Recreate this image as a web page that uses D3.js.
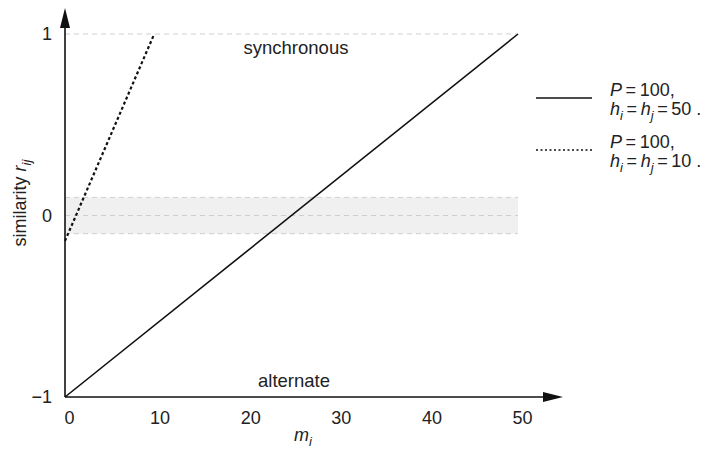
<!DOCTYPE html>
<html>
<head>
<meta charset="utf-8">
<script src="https://cdn.jsdelivr.net/npm/d3@7"></script>
<style>
  body { margin: 0; background: #fff; }
  text { font-family: "Liberation Sans", Arial, sans-serif; fill: #222; }
</style>
</head>
<body>
<svg id="chart"></svg>
<script>
// values
const xTicks = [0, 10, 20, 30, 40, 50];
const yTicks = [-1, 0, 1];
const yTickLabels = ["\u22121", "0", "1"];
const lineA_m = [0, 50];      // P = 100, h_i = h_j = 50
const lineA_r = [-1, 1];
const lineB_m = [0, 9.85];    // P = 100, h_i = h_j = 10
const lineB_r = [-0.14, 1];
const bandLimits = [-0.1, 0.1];

const width = 714, height = 455;
const svg = d3.select("#chart").attr("width", width).attr("height", height);

const x = d3.scaleLinear().domain([0, 50]).range([65, 518]);
const y = d3.scaleLinear().domain([-1, 1]).range([397, 34]);

// shaded band around zero
svg.append("rect")
  .attr("x", x(0)).attr("y", y(bandLimits[1]))
  .attr("width", x(50) - x(0))
  .attr("height", y(bandLimits[0]) - y(bandLimits[1]))
  .attr("fill", "#f0f0f0");

// light dashed guides
[bandLimits[0], 0, bandLimits[1], 1].forEach(v => {
  svg.append("line")
    .attr("x1", x(0)).attr("x2", x(50))
    .attr("y1", y(v)).attr("y2", y(v))
    .attr("stroke", "#cfcfcf")
    .attr("stroke-width", 1)
    .attr("stroke-dasharray", "5,4");
});

// tick labels via d3 axes (no domain lines, arrows drawn by hand)
const xAxis = svg.append("g")
  .attr("transform", `translate(0,${y(-1)})`)
  .call(d3.axisBottom(x).tickValues(xTicks).tickSize(0).tickPadding(14));
xAxis.select(".domain").remove();
xAxis.selectAll("text")
  .attr("dx", 4)
  .style("font-size", "18px")
  .style("font-family", "Liberation Sans, Arial, sans-serif")
  .attr("fill", "#222");

const yAxis = svg.append("g")
  .attr("transform", `translate(${x(0)},0)`)
  .call(d3.axisLeft(y).tickValues(yTicks).tickSize(0).tickPadding(13)
    .tickFormat((d, i) => yTickLabels[i]));
yAxis.select(".domain").remove();
yAxis.selectAll("text")
  .style("font-size", "18px")
  .style("font-family", "Liberation Sans, Arial, sans-serif")
  .attr("fill", "#222");

// axis lines with arrowheads
svg.append("line")
  .attr("x1", x(0)).attr("x2", 546)
  .attr("y1", y(-1)).attr("y2", y(-1))
  .attr("stroke", "#111").attr("stroke-width", 1.6);
svg.append("path")
  .attr("d", `M563,${y(-1)} L543,${y(-1) - 5} L543,${y(-1) + 5} Z`)
  .attr("fill", "#111");

svg.append("line")
  .attr("x1", x(0)).attr("x2", x(0))
  .attr("y1", y(-1)).attr("y2", 25)
  .attr("stroke", "#111").attr("stroke-width", 1.6);
svg.append("path")
  .attr("d", `M${x(0)},8 L${x(0) - 5},28 L${x(0) + 5},28 Z`)
  .attr("fill", "#111");

// data lines
const line = d3.line().x(d => x(d[0])).y(d => y(d[1]));

svg.append("path")
  .datum(lineA_m.map((m, i) => [m, lineA_r[i]]))
  .attr("d", line)
  .attr("fill", "none")
  .attr("stroke", "#111")
  .attr("stroke-width", 1.6);

svg.append("path")
  .datum(lineB_m.map((m, i) => [m, lineB_r[i]]))
  .attr("d", line)
  .attr("fill", "none")
  .attr("stroke", "#111")
  .attr("stroke-width", 2.2)
  .attr("stroke-dasharray", "3,2.5");

// region annotations
svg.append("text")
  .attr("x", 296).attr("y", 54)
  .attr("text-anchor", "middle")
  .style("font-size", "18.5px")
  .text("synchronous");

svg.append("text")
  .attr("x", 294).attr("y", 387)
  .attr("text-anchor", "middle")
  .style("font-size", "18.5px")
  .text("alternate");

// axis titles
const xt = svg.append("text")
  .attr("x", 303).attr("y", 441)
  .attr("text-anchor", "middle")
  .style("font-size", "18px");
xt.append("tspan").style("font-style", "italic").text("m");
xt.append("tspan").style("font-style", "italic").style("font-size", "13px")
  .attr("dy", 5).text("i");

const yt = svg.append("text")
  .attr("transform", `translate(26,203) rotate(-90)`)
  .attr("text-anchor", "middle")
  .style("font-size", "18px");
yt.append("tspan").text("similarity ");
yt.append("tspan").style("font-style", "italic").text("r");
yt.append("tspan").style("font-style", "italic").style("font-size", "13px")
  .attr("dy", 5).text("ij");

// legend
const thin = "\u2009";
function legendEntry(y0, dash, hVal) {
  svg.append("line")
    .attr("x1", 536).attr("x2", 592)
    .attr("y1", y0).attr("y2", y0)
    .attr("stroke", "#111")
    .attr("stroke-width", dash ? 1.4 : 1.6)
    .attr("stroke-dasharray", dash ? "2,2.5" : null);

  const t1 = svg.append("text").attr("x", 610).attr("y", y0 - 2).style("font-size", "18px");
  t1.append("tspan").style("font-style", "italic").text("P");
  t1.append("tspan").text(`${thin}=${thin}100,`);

  const t2 = svg.append("text").attr("x", 610).attr("y", y0 + 17).style("font-size", "18px");
  t2.append("tspan").style("font-style", "italic").text("h");
  t2.append("tspan").style("font-style", "italic").style("font-size", "13px").attr("dy", 5).text("i");
  t2.append("tspan").attr("dy", -5).text(`${thin}=${thin}`);
  t2.append("tspan").style("font-style", "italic").text("h");
  t2.append("tspan").style("font-style", "italic").style("font-size", "13px").attr("dy", 5).text("j");
  t2.append("tspan").attr("dy", -5).text(`${thin}=${thin}${hVal} .`);
}
legendEntry(98, false, 50);
legendEntry(150, true, 10);
</script>
</body>
</html>
